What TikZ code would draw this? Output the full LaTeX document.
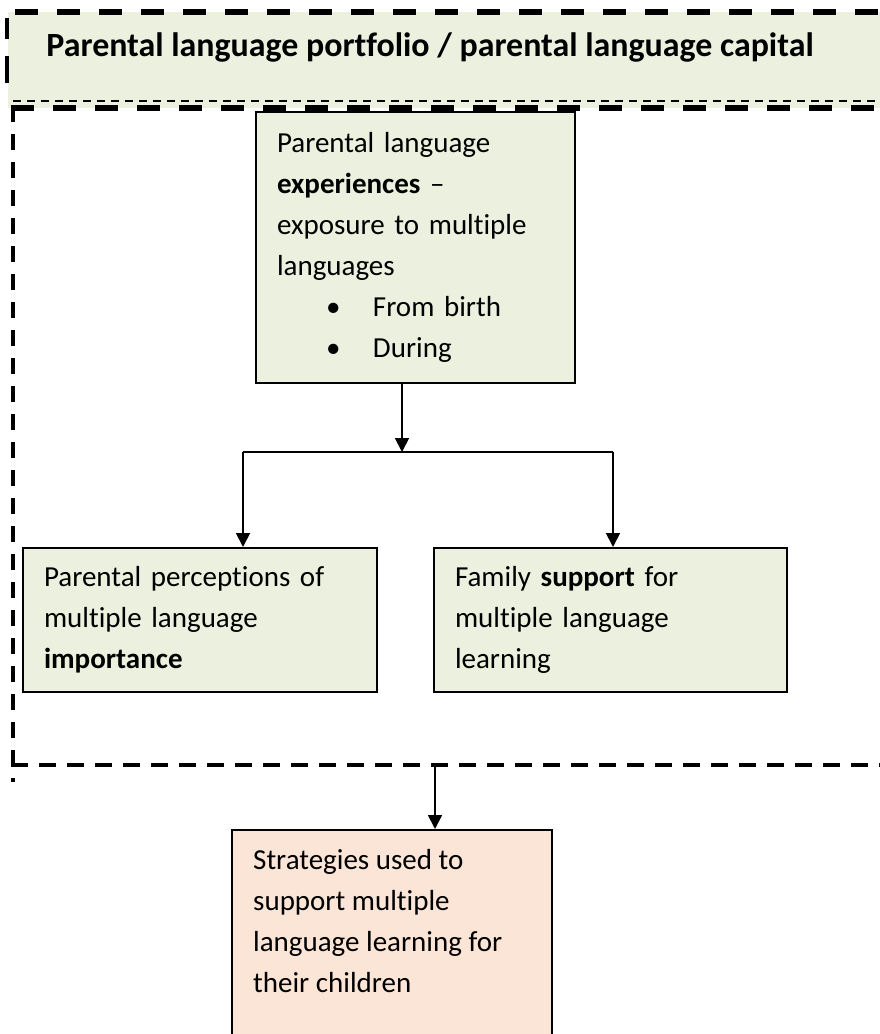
\documentclass[tikz,border=0pt]{standalone}
\usepackage{fontspec}
\setmainfont{Carlito}[Ligatures={NoCommon}]
\usetikzlibrary{arrows.meta,calc}
\definecolor{boxgreen}{HTML}{EBF1DE}
\definecolor{boxpeach}{HTML}{FBE5D6}
\begin{document}
\begin{tikzpicture}[x=1pt,y=-1pt,
  bodyfont/.style={font=\fontsize{29}{41}\selectfont},
  gbox/.style={draw=black,line width=2pt,fill=boxgreen,inner xsep=21pt,inner ysep=0pt,align=left,bodyfont},
  arr/.style={line width=1.8pt,-{Triangle[length=14pt,width=14pt]}},
  thickdash/.style={line width=6pt,dash pattern=on 23pt off 19pt},
  sidedash/.style={line width=4pt,dash pattern=on 16pt off 12pt},
  bottomdash/.style={line width=4pt,dash pattern=on 17pt off 11pt},
  thindash/.style={line width=2pt,dash pattern=on 8pt off 6pt}]
\useasboundingbox (0,0) rectangle (880,1034);
\clip (0,0) rectangle (880,1034);
% header band
\fill[boxgreen] (8,12) rectangle (880,108);
\node[font=\fontsize{33.9}{40}\selectfont\bfseries,inner sep=0pt] (title) at (430,47.5) {Parental language portfolio / parental language capital};
\draw[thickdash] (15,12) -- (880,12);
\draw[line width=4pt] (7,18) -- (7,39) (7,56) -- (7,83);
\draw[thindash] (13,101) -- (880,101);
% outer dashed frame
\draw[thickdash] (11,108) -- (880,108);
\draw[sidedash] (13,106) -- (13,782);
\draw[bottomdash] (11,765) -- (880,765);
% boxes
\node[gbox,minimum width=319pt,minimum height=271pt,text width=277pt] (exp) at (415.5,247.5)
  {Parental language\\\textbf{experiences} –\\exposure to multiple\\languages\\\hspace*{49pt}\makebox[47pt][l]{•}From birth\\\hspace*{49pt}\makebox[47pt][l]{•}During};
\node[gbox,minimum width=354pt,minimum height=144pt,text width=312pt] (perc) at (200,620)
  {Parental perceptions of\\multiple language\\\textbf{importance}};
\node[gbox,minimum width=353pt,minimum height=144pt,text width=311pt] (supp) at (610.5,620)
  {Family \textbf{support} for\\multiple language\\learning};
\node[draw=black,line width=2pt,fill=boxpeach,minimum width=320pt,minimum height=260pt,anchor=north,inner sep=0pt] (strat) at (392,829) {};
\node[anchor=north west,inner sep=0pt,align=left,bodyfont] (strattext) at (253,849)
  {Strategies used to\\support multiple\\language learning for\\their children};
% connectors
\coordinate (j) at (402,452);
\coordinate (hl) at (243,452);
\coordinate (hr) at (613,452);
\coordinate (bl) at (435,765);
\draw[arr] (exp.south -| j) -- (j);
\draw[line width=1.5pt] (hl) -- (hr);
\draw[arr] (hl) -- (perc.north -| hl);
\draw[arr] (hr) -- (supp.north -| hr);
\draw[arr] (bl) -- (strat.north -| bl);
\end{tikzpicture}
\end{document}
